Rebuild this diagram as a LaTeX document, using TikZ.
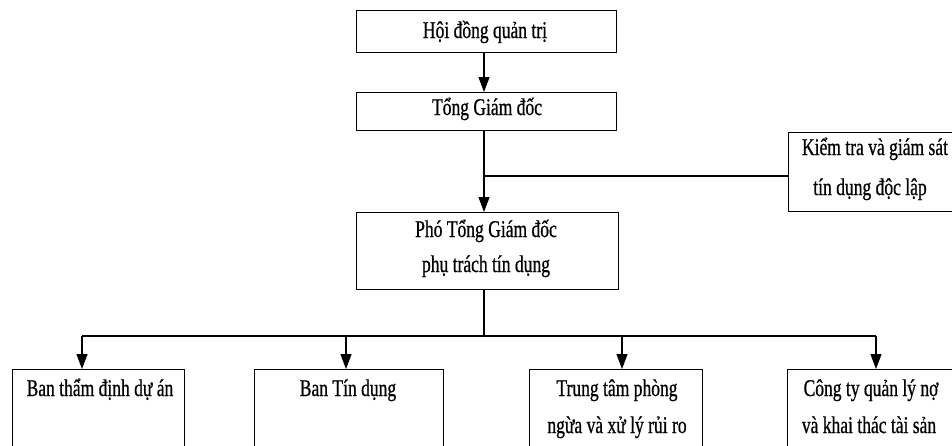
\documentclass[tikz,border=0pt]{standalone}
\usepackage{fontspec}
\setmainfont{Liberation Serif}[FakeStretch=0.73,FakeBold=0.7]
\usetikzlibrary{arrows.meta}
\begin{document}
\begin{tikzpicture}[x=1pt,y=-1pt,
  box/.style={draw, line width=1.3pt, inner sep=0pt, anchor=north west},
  txt/.style={inner sep=0pt, anchor=base, font=\fontsize{24}{36}\selectfont},
  link/.style={line width=1.2pt},
  arr/.style={link, -{Triangle[length=15pt,width=11pt]}}]
\useasboundingbox (0,0) rectangle (952,445);
\clip (0,0) rectangle (952,445);
% management chain
\node[box, minimum width=260pt, minimum height=42pt] (hdqt) at (356,10) {};
\node[txt] (hdqtT) at (485,38) {Hội đồng quản trị};
\node[box, minimum width=260pt, minimum height=38pt] (tgd) at (356,92) {};
\node[txt] (tgdT) at (487,115) {Tổng Giám đốc};
\node[box, minimum width=262pt, minimum height=77pt] (ptgd) at (356,212) {};
\node[txt] (ptgdA) at (486,237) {Phó Tổng Giám đốc};
\node[txt] (ptgdB) at (486,272) {phụ trách tín dụng};
\node[box, minimum width=168pt, minimum height=79pt] (ktgs) at (788,132) {};
\node[txt] (ktgsA) at (875,155) {Kiểm tra và giám sát};
\node[txt] (ktgsB) at (870,195) {tín dụng độc lập};
% departments
\node[box, minimum width=172pt, minimum height=100pt] (b1) at (12,369) {};
\node[box, minimum width=189pt, minimum height=100pt] (b2) at (254,369) {};
\node[box, minimum width=173pt, minimum height=100pt] (b3) at (529,369) {};
\node[box, minimum width=166pt, minimum height=100pt] (b4) at (787,369) {};
\node[txt] (b1T) at (100,396) {Ban thẩm định dự án};
\node[txt] (b2T) at (348,396) {Ban Tín dụng};
\node[txt] (b3A) at (617,396) {Trung tâm phòng};
\node[txt] (b3B) at (617,433) {ngừa và xử lý rủi ro};
\node[txt] (b4A) at (871,396) {Công ty quản lý nợ};
\node[txt] (b4B) at (869,433) {và khai thác tài sản};
% connectors
\coordinate (busL) at (82,336);
\coordinate (busR) at (876,336);
\coordinate (side) at (484,176);
\draw[arr] (hdqt.south -| 484,0) -- (tgd.north -| 484,0);
\draw[arr] (tgd.south -| 484,0) -- (ptgd.north -| 484,0);
\draw[link] (side) -- (ktgs.west |- side);
\draw[link] (ptgd.south -| 484,0) -- (484,336);
\draw[link] (busL) -- (busR);
\draw[arr] (busL) -- (b1.north -| busL);
\draw[arr] (346,336) -- (b2.north -| 346,0);
\draw[arr] (622,336) -- (b3.north -| 622,0);
\draw[arr] (busR) -- (b4.north -| busR);
\end{tikzpicture}
\end{document}
